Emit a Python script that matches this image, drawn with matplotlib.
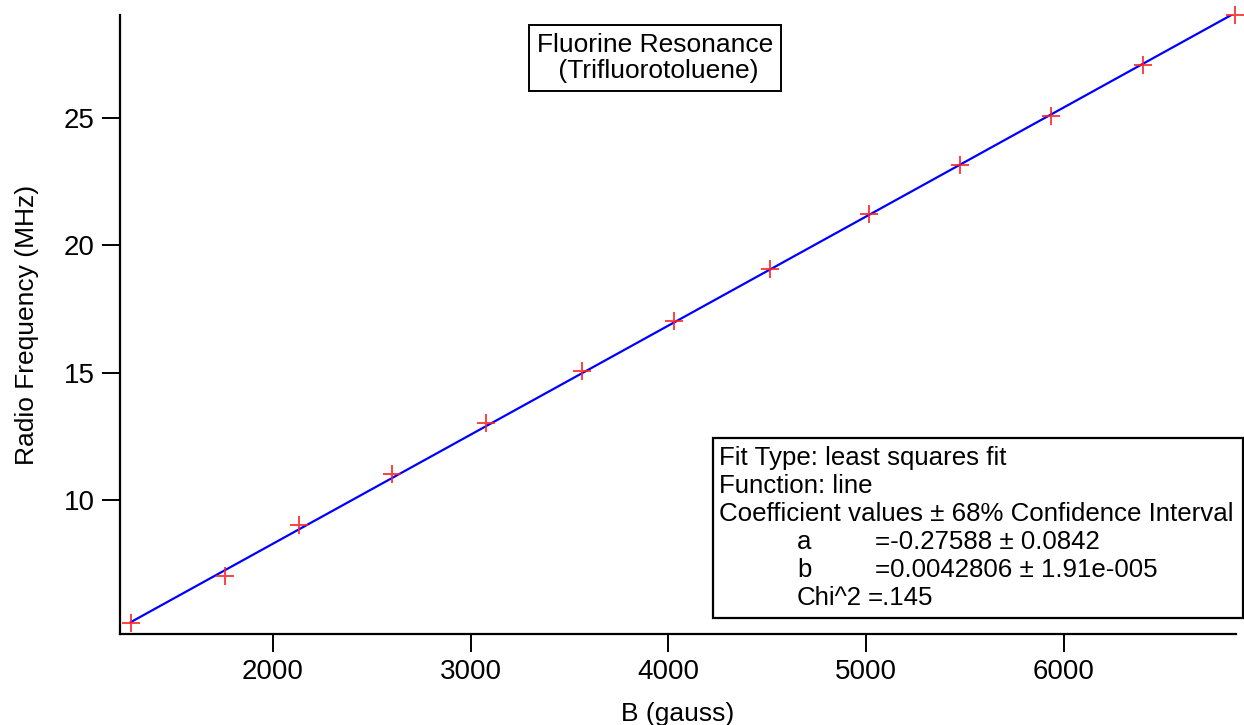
import matplotlib
matplotlib.use("Agg")
import matplotlib.pyplot as plt
from matplotlib.patches import Rectangle
import numpy as np

plt.rcParams['font.family'] = ['Liberation Sans', 'DejaVu Sans']

# measured points
field_gauss = [1281, 1757, 2130, 2602, 3078, 3562, 4028, 4515, 5015, 5477, 5936, 6399, 6868]
freq_mhz = [5.16, 7.02, 9.02, 11.01, 13.04, 15.07, 17.03, 19.08, 21.22, 23.15, 25.09, 27.07, 29.04]

# fit coefficients (as printed on the chart)
fit_a = -0.27588
fit_b = 0.0042806

x_ticks = [2000, 3000, 4000, 5000, 6000]
y_ticks = [10, 15, 20, 25]

FS = 19

fig = plt.figure(figsize=(12.44, 7.25), dpi=100)
ax = fig.add_axes([120 / 1244, 1 - 634 / 725, (1236 - 120) / 1244, (634 - 15) / 725])

xs = np.array([field_gauss[0], field_gauss[-1]])
ax.plot(xs, fit_a + fit_b * xs, color="#0000ff", lw=1.6, zorder=2)
ax.plot(field_gauss, freq_mhz, ls="none", marker="+", ms=13, mew=1.4,
        color="#ff2020", alpha=0.85, clip_on=False, zorder=3)

ax.set_xlim(1226, 6872)
ax.set_ylim(4.74, 29.04)
ax.set_xticks(x_ticks)
ax.set_yticks(y_ticks)
for s in ["top", "right"]:
    ax.spines[s].set_visible(False)
for s in ["left", "bottom"]:
    ax.spines[s].set_linewidth(1.6)
ax.tick_params(direction="out", length=13, width=1.4, labelsize=20, pad=5)
ax.set_xlabel("B (gauss)", fontsize=FS, labelpad=12)
ax.set_ylabel("Radio Frequency (MHz)", fontsize=FS, labelpad=18)

# title box
fig.text(655 / 1244, 1 - 58 / 725, "Fluorine Resonance\n (Trifluorotoluene)", fontsize=FS,
         ha="center", va="center", linespacing=1.15,
         bbox=dict(boxstyle="square,pad=0.3", fc="white", ec="black", lw=1.4))

# fit info box
fig.patches.append(Rectangle((713 / 1244, 1 - 618 / 725), (1243 - 713) / 1244, (618 - 438) / 725,
                             transform=fig.transFigure, fill=True, fc="white", ec="black", lw=1.6, zorder=5))
FS_FIT = 18.6
lines = [
    "Fit Type: least squares fit",
    "Function: line",
    "Coefficient values \u00b1 68% Confidence Interval",
]
y0 = 458
for i, t in enumerate(lines):
    fig.text(719 / 1244, 1 - (y0 + 28 * i) / 725, t, fontsize=FS_FIT, ha="left", va="center", zorder=6)
rows = [("a", "=-0.27588 \u00b1 0.0842", 875), ("b", "=0.0042806 \u00b1 1.91e-005", 875),
        ("Chi^2", "=.145", 868)]
for i, (k, v, vx) in enumerate(rows):
    yy = 1 - (y0 + 28 * (i + 3)) / 725
    fig.text(797 / 1244, yy, k, fontsize=FS_FIT, ha="left", va="center", zorder=6)
    fig.text(vx / 1244, yy, v, fontsize=FS_FIT, ha="left", va="center", zorder=6)

fig.savefig("out.png", dpi=100)
